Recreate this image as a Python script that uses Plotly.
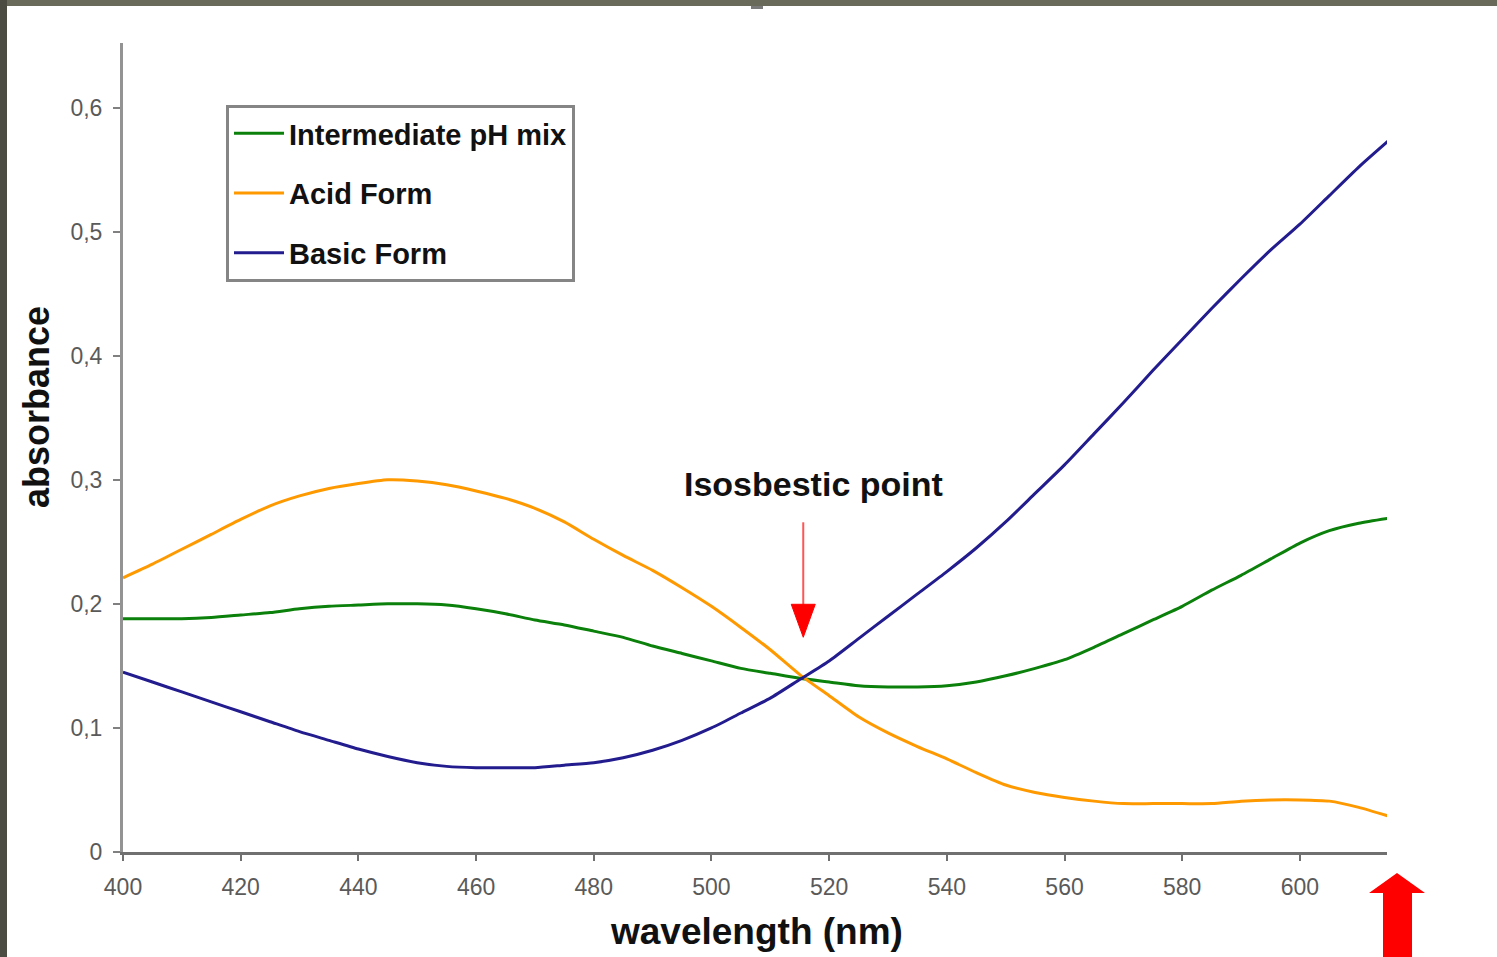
import plotly.graph_objects as go

# ---------------- data ----------------
wavelength = [400, 405, 410, 415, 420, 425, 430, 435, 440, 445, 450, 455, 460, 465,
              470, 475, 480, 485, 490, 495, 500, 505, 510, 515, 520, 525, 530, 535,
              540, 545, 550, 555, 560, 565, 570, 575, 580, 585, 590, 595, 600, 605,
              610, 615]

intermediate = [0.188, 0.188, 0.188, 0.189, 0.191, 0.193, 0.196, 0.198, 0.199, 0.200,
                0.200, 0.199, 0.196, 0.192, 0.187, 0.183, 0.178, 0.173, 0.166, 0.160,
                0.154, 0.148, 0.144, 0.140, 0.137, 0.134, 0.133, 0.133, 0.134, 0.137,
                0.142, 0.148, 0.155, 0.165, 0.176, 0.187, 0.198, 0.211, 0.223, 0.236,
                0.249, 0.259, 0.265, 0.269]

acid = [0.221, 0.232, 0.244, 0.256, 0.268, 0.279, 0.287, 0.293, 0.297, 0.300,
        0.299, 0.296, 0.291, 0.285, 0.277, 0.266, 0.252, 0.239, 0.227, 0.213,
        0.198, 0.181, 0.163, 0.143, 0.126, 0.109, 0.096, 0.085, 0.075, 0.064,
        0.054, 0.048, 0.044, 0.041, 0.039, 0.039, 0.039, 0.039, 0.041, 0.042,
        0.042, 0.041, 0.036, 0.029]

basic = [0.145, 0.137, 0.129, 0.121, 0.113, 0.105, 0.097, 0.090, 0.083, 0.077,
         0.072, 0.069, 0.068, 0.068, 0.068, 0.070, 0.072, 0.076, 0.082, 0.090,
         0.100, 0.112, 0.124, 0.139, 0.154, 0.172, 0.190, 0.208, 0.226, 0.245,
         0.266, 0.289, 0.312, 0.337, 0.362, 0.388, 0.413, 0.438, 0.462, 0.485,
         0.506, 0.529, 0.552, 0.573]

series_names = ["Intermediate pH mix", "Acid Form", "Basic Form"]
series_colors = ["#0b800b", "#ff9900", "#221c8e"]

x_ticks = [400, 420, 440, 460, 480, 500, 520, 540, 560, 580, 600]
y_ticks = [0, 0.1, 0.2, 0.3, 0.4, 0.5, 0.6]
y_tick_text = ["0", "0,1", "0,2", "0,3", "0,4", "0,5", "0,6"]

iso_wl, iso_a = 515.6, 0.140

# ---------------- layout geometry ----------------
W, H = 1497, 957
L, R, T, B = 123, 1387, 43, 852
X_RANGE = [400, 614.8]
Y_RANGE = [0, 0.652]


def px(xp):
    return (xp - L) / (R - L)


def py(yp):
    return (B - yp) / (B - T)


def dy(pix):  # vertical pixels -> data units
    return pix * (Y_RANGE[1] - Y_RANGE[0]) / (B - T)


def dx(pix):  # horizontal pixels -> data units
    return pix * (X_RANGE[1] - X_RANGE[0]) / (R - L)


FONT = "Liberation Sans, Arial, sans-serif"

fig = go.Figure()
for i, (name, ys, col) in enumerate(zip(series_names, [intermediate, acid, basic], series_colors)):
    fig.add_trace(go.Scatter(
        x=wavelength, y=ys, name=name, mode="lines",
        line=dict(color=col, width=3, shape="spline", smoothing=0.6),
        legendgroup=f"g{i}",
    ))

shapes = []
# dark frame on top and left edges
shapes.append(dict(type="rect", xref="paper", yref="paper", x0=px(0), x1=px(W), y0=py(0), y1=py(6),
                   fillcolor="#6a6a5b", line=dict(width=0), layer="below"))
shapes.append(dict(type="rect", xref="paper", yref="paper", x0=px(0), x1=px(7), y0=py(0), y1=py(H),
                   fillcolor="#4c4c42", line=dict(width=0), layer="below"))
shapes.append(dict(type="rect", xref="paper", yref="paper", x0=px(751), x1=px(763), y0=py(6), y1=py(9),
                   fillcolor="#7a7a7a", line=dict(width=0), layer="below"))

# isosbestic point arrow
shapes.append(dict(type="line", xref="x", yref="y", x0=iso_wl, x1=iso_wl,
                   y0=iso_a + dy(678 - 522), y1=iso_a + dy(678 - 608),
                   line=dict(color="#ff5555", width=2)))
shapes.append(dict(type="path", xref="x", yref="y",
                   path=(f"M {iso_wl - dx(12)},{iso_a + dy(678 - 604)} "
                         f"L {iso_wl + dx(12)},{iso_a + dy(678 - 604)} "
                         f"L {iso_wl},{iso_a + dy(678 - 637)} Z"),
                   fillcolor="#ff0000", line=dict(color="#ff0000", width=1)))

# big red arrow at bottom right
arrow_pts = [(1397, 873), (1425, 893), (1412, 893), (1412, 960), (1383, 960), (1383, 893), (1369, 893)]
path = "M " + " L ".join(f"{px(a)},{py(b)}" for a, b in arrow_pts) + " Z"
shapes.append(dict(type="path", xref="paper", yref="paper", path=path,
                   fillcolor="#ff0000", line=dict(color="#ff0000", width=0)))

annotations = [
    dict(text="<b>Isosbestic point</b>", x=517.3, y=iso_a + dy(678 - 484), xref="x", yref="y",
         xanchor="center", yanchor="middle",
         showarrow=False, font=dict(family=FONT, size=34, color="#111111")),
    dict(text="<b>wavelength (nm)</b>", x=px(756), y=py(931), xref="paper", yref="paper",
         xanchor="center", yanchor="middle",
         showarrow=False, font=dict(family=FONT, size=37, color="#111111")),
    dict(text="<b>absorbance</b>", x=px(36), y=py(407), xref="paper", yref="paper",
         xanchor="center", yanchor="middle",
         showarrow=False, textangle=-90, font=dict(family=FONT, size=36, color="#111111")),
]

fig.update_layout(
    width=W, height=H,
    margin=dict(l=L, r=W - R, t=T, b=H - B, pad=0),
    paper_bgcolor="white", plot_bgcolor="white",
    showlegend=True,
    legend=dict(
        x=px(226), y=py(105), xanchor="left", yanchor="top",
        bordercolor="#858585", borderwidth=3, bgcolor="white",
        font=dict(family=FONT, size=29, color="#111111", weight="bold"),
        tracegroupgap=19, traceorder="grouped", itemwidth=50,
    ),
    shapes=shapes,
    annotations=annotations,
    xaxis=dict(
        range=X_RANGE, tickvals=x_ticks, ticktext=[str(v) for v in x_ticks],
        showgrid=False, zeroline=False, showline=True, linecolor="#707070", linewidth=3,
        ticks="outside", ticklen=6, tickwidth=2, tickcolor="#707070",
        ticklabelstandoff=6,
        tickfont=dict(family=FONT, size=23, color="#5a5a5a"),
    ),
    yaxis=dict(
        range=Y_RANGE, tickvals=y_ticks, ticktext=y_tick_text,
        showgrid=False, zeroline=False, showline=True, linecolor="#939393", linewidth=3,
        ticks="outside", ticklen=7, tickwidth=2, tickcolor="#808080",
        ticklabelstandoff=6,
        tickfont=dict(family=FONT, size=23, color="#5a5a5a"),
    ),
)

fig.write_html(
    "out.html",
    config={"displayModeBar": False},
    post_script="document.body.style.margin='0';document.body.style.overflow='hidden';",
)
